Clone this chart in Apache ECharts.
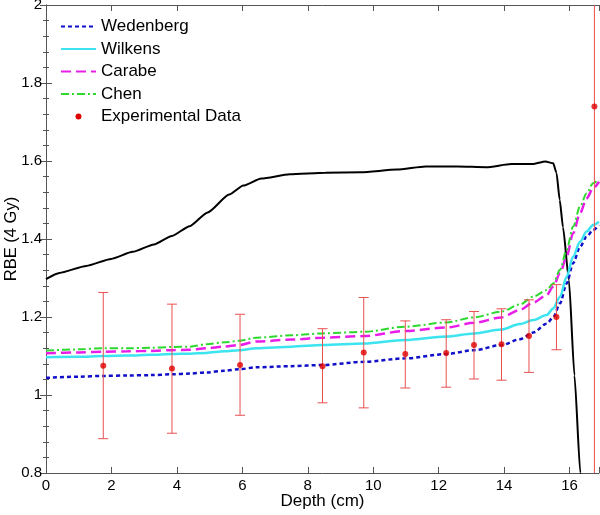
<!DOCTYPE html>
<html>
<head>
<meta charset="utf-8">
<script src="https://cdn.jsdelivr.net/npm/echarts@6/dist/echarts.min.js"></script>
<style>
html,body{margin:0;padding:0;background:#fff;}
#chart{width:600px;height:515px;}
</style>
</head>
<body>
<div id="chart"></div>
<script>
// ---- data ----
const depth = [0, 1, 1.75, 2.5, 3.2, 3.85, 4.4, 4.9, 5.45, 5.9, 6.43, 7.5, 8.45, 9.71, 10.98, 12.23, 13.08, 13.92, 14.48, 14.89, 15.3, 15.5, 15.71, 15.91, 16.11, 16.32, 16.52, 16.72, 16.9];
const wedenberg = [1.044, 1.047, 1.049, 1.050, 1.051, 1.053, 1.055, 1.058, 1.062, 1.066, 1.071, 1.074, 1.077, 1.085, 1.094, 1.105, 1.115, 1.128, 1.143, 1.160, 1.183, 1.199, 1.235, 1.286, 1.338, 1.380, 1.406, 1.423, 1.436];
const wilkens = [1.097, 1.098, 1.100, 1.101, 1.103, 1.105, 1.106, 1.108, 1.112, 1.115, 1.120, 1.124, 1.128, 1.132, 1.141, 1.150, 1.158, 1.168, 1.182, 1.192, 1.205, 1.222, 1.252, 1.303, 1.355, 1.393, 1.419, 1.436, 1.444];
const carabe = [1.107, 1.109, 1.111, 1.112, 1.113, 1.115, 1.116, 1.120, 1.124, 1.128, 1.137, 1.142, 1.147, 1.151, 1.164, 1.173, 1.185, 1.199, 1.218, 1.237, 1.256, 1.278, 1.312, 1.355, 1.415, 1.466, 1.504, 1.530, 1.547];
const chen = [1.114, 1.117, 1.120, 1.120, 1.121, 1.123, 1.124, 1.130, 1.135, 1.139, 1.147, 1.153, 1.158, 1.162, 1.175, 1.186, 1.199, 1.214, 1.232, 1.252, 1.269, 1.286, 1.321, 1.372, 1.432, 1.483, 1.517, 1.543, 1.553];

const doseDepth = [0, 0.41, 1.23, 1.99, 2.65, 3.30, 3.85, 4.39, 4.94, 5.60, 6.03, 6.58, 7.45, 8.54, 9.63, 10.72, 11.60, 12.58, 13.45, 14.22, 14.87, 15.26, 15.5, 15.6, 15.7, 15.8, 15.98, 16.15, 16.33, 16.4];
const doseCurve = [1.297, 1.313, 1.331, 1.349, 1.367, 1.386, 1.408, 1.433, 1.468, 1.514, 1.537, 1.555, 1.566, 1.570, 1.571, 1.578, 1.586, 1.586, 1.584, 1.592, 1.592, 1.599, 1.594, 1.570, 1.500, 1.430, 1.295, 1.050, 0.800, 0.700];

const expDepth = [1.75, 3.85, 5.93, 8.45, 9.71, 10.98, 12.23, 13.08, 13.92, 14.76, 15.60, 16.76];
const expRBE = [1.075, 1.068, 1.077, 1.074, 1.109, 1.105, 1.108, 1.128, 1.130, 1.151, 1.200, 1.740];
const expLow = [0.888, 0.902, 0.948, 0.980, 0.967, 1.018, 1.020, 1.041, 1.038, 1.058, 1.116, 0.300];
const expHigh = [1.263, 1.233, 1.207, 1.170, 1.250, 1.190, 1.193, 1.214, 1.221, 1.244, 1.283, 3.200];

const xTicks = [0, 2, 4, 6, 8, 10, 12, 14, 16];
const X_MIN = 0, X_MAX = 16.9, Y_MIN = 0.8, Y_MAX = 2;

// ---- chart ----
const pair = (xs, ys) => xs.map((x, i) => [x, ys[i]]);
const chart = echarts.init(document.getElementById('chart'), null, {renderer: 'canvas'});
const FONT = 'Liberation Sans, Arial, sans-serif';
const axisCol = '#555';

const lineSeries = (name, ys, color, width, type) => ({
  name, type: 'line', data: pair(depth, ys), showSymbol: false, symbol: 'none',
  smooth: 0.3, smoothMonotone: 'x',
  lineStyle: {color, width, type}, itemStyle: {color}, z: 3
});

chart.setOption({
  animation: false,
  backgroundColor: '#fff',
  textStyle: {fontFamily: FONT},
  grid: {left: 46, right: 1, top: 5, bottom: 42, containLabel: false, outerBoundsMode: 'none'},
  legend: {
    orient: 'vertical', left: 55, top: 13,
    itemWidth: 35, itemHeight: 14, itemGap: 5.5,
    itemStyle: {opacity: 0},
    textStyle: {fontSize: 17, color: '#000', fontFamily: FONT},
    data: [
      {name: 'Wedenberg'}, {name: 'Wilkens'}, {name: 'Carabe'}, {name: 'Chen'},
      {name: 'Experimental Data', itemStyle: {opacity: 1, color: '#e00000'},
       icon: 'path://M0,0 L0.01,0 M35,14 L35.01,14 M14.5,7 A3,3 0 1,0 20.5,7 A3,3 0 1,0 14.5,7 Z'}
    ]
  },
  xAxis: [{
    type: 'value', min: X_MIN, max: X_MAX, interval: 2, position: 'bottom',
    name: 'Depth (cm)', nameLocation: 'middle', nameGap: 20, nameMoveOverlap: false,
    nameTextStyle: {fontSize: 17, color: '#000', fontFamily: FONT},
    axisLine: {show: true, lineStyle: {color: axisCol, width: 1}},
    axisTick: {show: true, inside: true, length: 6, lineStyle: {color: axisCol}},
    axisLabel: {fontSize: 15, color: '#000', margin: 5, fontFamily: FONT,
      formatter: v => (xTicks.indexOf(v) >= 0 ? String(v) : '')},
    splitLine: {show: false}
  }, {
    type: 'value', min: X_MIN, max: X_MAX, interval: 2, position: 'top',
    axisLine: {show: true, lineStyle: {color: axisCol, width: 1}},
    axisTick: {show: true, inside: true, length: 6, lineStyle: {color: axisCol}},
    axisLabel: {show: false}, splitLine: {show: false}
  }],
  yAxis: [{
    type: 'value', min: Y_MIN, max: Y_MAX, interval: 0.2, position: 'left',
    name: 'RBE (4 Gy)', nameLocation: 'middle', nameGap: 26, nameRotate: 90, nameMoveOverlap: false,
    nameTextStyle: {fontSize: 16.5, color: '#000', fontFamily: FONT},
    axisLine: {show: true, lineStyle: {color: axisCol, width: 1}},
    axisTick: {show: true, inside: true, length: 6, lineStyle: {color: axisCol}},
    minorTick: {show: true, splitNumber: 5, length: 3, lineStyle: {color: axisCol}},
    axisLabel: {fontSize: 15, color: '#000', margin: 4, fontFamily: FONT,
      formatter: v => String(Math.round(v * 10) / 10)},
    splitLine: {show: false}
  }, {
    type: 'value', min: Y_MIN, max: Y_MAX, interval: 0.2, position: 'right',
    axisLine: {show: true, lineStyle: {color: axisCol, width: 1}},
    axisTick: {show: true, inside: true, length: 6, lineStyle: {color: axisCol}},
    minorTick: {show: true, splitNumber: 5, length: 3, lineStyle: {color: axisCol}},
    axisLabel: {show: false}, splitLine: {show: false}
  }],
  series: [
    {
      name: 'Dose', type: 'line', data: pair(doseDepth, doseCurve),
      showSymbol: false, symbol: 'none', smooth: 0.2, smoothMonotone: 'x',
      lineStyle: {color: '#000', width: 2}, z: 2
    },
    lineSeries('Wedenberg', wedenberg, '#1010c8', 2.5, [4, 3]),
    lineSeries('Wilkens', wilkens, '#3ce4f0', 2.5, 'solid'),
    lineSeries('Carabe', carabe, '#e81ee8', 2.5, [10, 5]),
    lineSeries('Chen', chen, '#2ed82e', 2, [8, 3, 2, 3]),
    {
      name: 'ErrorBars', type: 'custom',
      data: expDepth.map((d, i) => [d, expLow[i], expHigh[i]]),
      encode: {x: 0, y: [1, 2]}, z: 4,
      renderItem: (params, api) => {
        const x = api.value(0);
        const lo = api.value(1), hi = api.value(2);
        const loC = Math.max(lo, Y_MIN), hiC = Math.min(hi, Y_MAX);
        const pLo = api.coord([x, loC]);
        const pHi = api.coord([x, hiC]);
        const st = {stroke: 'rgb(232,80,80)', lineWidth: 1};
        const children = [{type: 'line', shape: {x1: pLo[0], y1: pLo[1], x2: pHi[0], y2: pHi[1]}, style: st}];
        const hw = 5;
        if (lo >= Y_MIN) children.push({type: 'line', shape: {x1: pLo[0] - hw, y1: pLo[1], x2: pLo[0] + hw, y2: pLo[1]}, style: st});
        if (hi <= Y_MAX) children.push({type: 'line', shape: {x1: pHi[0] - hw, y1: pHi[1], x2: pHi[0] + hw, y2: pHi[1]}, style: st});
        return {type: 'group', children};
      }
    },
    {
      name: 'Experimental Data', type: 'scatter', data: pair(expDepth, expRBE),
      symbol: 'circle', symbolSize: 6, itemStyle: {color: '#e00000'}, z: 5
    }
  ]
});
</script>
</body>
</html>
